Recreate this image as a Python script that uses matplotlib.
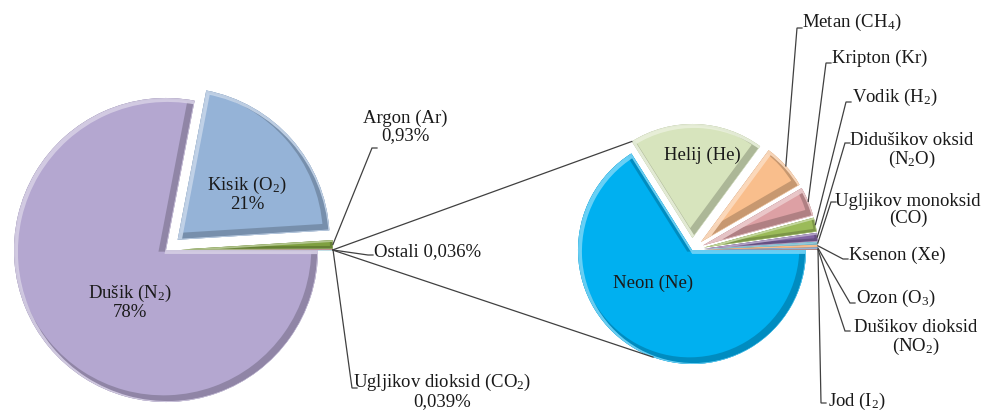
import numpy as np
import matplotlib
matplotlib.use('Agg')
import matplotlib.pyplot as plt
from matplotlib.patches import Wedge
import matplotlib.colors as mcolors

plt.rcParams['font.family'] = ['Liberation Serif', 'DejaVu Serif']
plt.rcParams['mathtext.fontset'] = 'custom'
plt.rcParams['mathtext.rm'] = 'Liberation Serif'
plt.rcParams['mathtext.it'] = 'Liberation Serif:italic'
plt.rcParams['mathtext.bf'] = 'Liberation Serif:bold'

# ---------------- data ----------------
main_names = ['Ostali', 'Ugljikov dioksid (CO$_2$)', 'Argon (Ar)', 'Kisik (O$_2$)', 'Dušik (N$_2$)']
main_values = [0.036, 0.039, 0.93, 21, 78]
main_pct = ['0,036%', '0,039%', '0,93%', '21%', '78%']
main_colors = ['#4BACC6', '#C0504D', '#7FA040', '#95B3D7', '#B4A7D0']

other_names = ['Jod (I$_2$)', 'Dušikov dioksid\n(NO$_2$)', 'Ozon (O$_3$)', 'Ksenon (Xe)',
               'Ugljikov monoksid\n(CO)', 'Didušikov oksid\n(N$_2$O)', 'Vodik (H$_2$)',
               'Kripton (Kr)', 'Metan (CH$_4$)', 'Helij (He)', 'Neon (Ne)']
other_values = [0.01, 0.02, 0.07, 0.09, 0.1, 0.325, 0.55, 1.14, 1.79, 5.24, 18.18]
other_colors = ['#9BBB59', '#C0504D', '#4F81BD', '#F79646', '#4BACC6', '#8064A2',
                '#9BBB59', '#DDA0A4', '#F9BE8C', '#D7E4BD', '#00B0F0']

# ---------------- layout ----------------
W, H = 986, 412
fig = plt.figure(figsize=(W / 100, H / 100), dpi=100)
ax = fig.add_axes([0, 0, 1, 1])

def Y(y):  # screen y -> data y
    return H - y

TXT = '#1a1a1a'
LINE = '#404040'
FS = 13.5

c1, r1 = (166, Y(250)), 152
c2, r2 = (692, Y(250)), 114

start1 = -main_values[0] / sum(main_values) * 180.0
w1, _ = ax.pie(main_values, colors=main_colors, startangle=start1, counterclock=True,
               radius=r1, center=c1, explode=[15, 15, 15, 15.5, 0],
               wedgeprops=dict(linewidth=0))
w2, _ = ax.pie(other_values, colors=other_colors, startangle=0, counterclock=True,
               radius=r2, center=c2, explode=[12] * 10 + [0],
               wedgeprops=dict(linewidth=0))

# bevel-like shading: dark rim at lower-right, light rim at upper-left
for w, col in list(zip(w1, main_colors)) + list(zip(w2, other_colors)):
    base = np.array(mcolors.to_rgb(col))
    dark = base * 0.78
    light = base + (1 - base) * 0.45
    cx, cy = w.center
    span = w.theta2 - w.theta1
    k = 1.0 if span > 10 else 0.45
    rd = Wedge((cx - 2.5 * k, cy + 2.5 * k), w.r, w.theta1, w.theta2, fill=False,
               edgecolor=dark, linewidth=6 * k, alpha=0.9)
    ax.add_patch(rd)
    rd.set_clip_path(w)
    rl = Wedge((cx + 1.5 * k, cy - 1.5 * k), w.r, w.theta1, w.theta2, fill=False,
               edgecolor=light, linewidth=3.5 * k, alpha=0.9)
    ax.add_patch(rl)
    rl.set_clip_path(w)

def pt(w, ang, frac=1.0):
    a = np.deg2rad(ang)
    return (w.center[0] + w.r * frac * np.cos(a), w.center[1] + w.r * frac * np.sin(a))

def mid(w):
    return 0.5 * (w.theta1 + w.theta2)

# inside labels
ax.text(247, Y(194), f'{main_names[3]}\n{main_pct[3]}', ha='center', va='center',
        fontsize=FS, color=TXT, linespacing=1.05)
ax.text(130, Y(302), f'{main_names[4]}\n{main_pct[4]}', ha='center', va='center',
        fontsize=FS, color=TXT, linespacing=1.05)
ax.text(702, Y(155), other_names[9], ha='center', va='center', fontsize=FS, color=TXT)
ax.text(653, Y(283), other_names[10], ha='center', va='center', fontsize=FS, color=TXT)

def leader(w, hook, text, tx, ty, ha='left'):
    p0 = pt(w, mid(w))
    hx, hy = hook
    ax.plot([p0[0], hx, hx + 5], [p0[1], Y(hy), Y(hy)], color=LINE, lw=0.9,
            solid_joinstyle='miter')
    ax.text(tx, Y(ty), text, ha=ha, va='center', fontsize=FS, color=TXT,
            multialignment='center', linespacing=1.05)

# left pie outside labels
leader(w1[2], (372, 148), f'{main_names[2]}\n{main_pct[2]}', 405, 127, ha='center')
leader(w1[0], (368, 255), f'{main_names[0]} {main_pct[0]}', 374, 252)
leader(w1[1], (352, 388), f'{main_names[1]}\n{main_pct[1]}', 442, 391, ha='center')

# right pie outside labels
leader(w2[8], (797, 28), other_names[8], 802, 22)
leader(w2[7], (826, 63), other_names[7], 832, 58)
leader(w2[6], (846, 102), other_names[6], 852, 97)
leader(w2[5], (845, 143), other_names[5], 912, 151, ha='center')
leader(w2[4], (831, 202), other_names[4], 908, 210, ha='center')
leader(w2[3], (843, 259), other_names[3], 849, 255)
leader(w2[2], (850, 303), other_names[2], 856, 298)
leader(w2[1], (845, 331), other_names[1], 916, 338, ha='center')
leader(w2[0], (821, 403), other_names[0], 828, 401)

# series lines between the two pies
wo = w1[0]
a_top = pt(wo, wo.theta2)
a_bot = pt(wo, wo.theta1)
he = w2[9]
b_top = pt(he, he.theta2)
ne = w2[10]
b_bot = pt(ne, 250)
ax.plot([a_top[0], b_top[0]], [a_top[1], b_top[1]], color=LINE, lw=0.9)
ax.plot([a_bot[0], b_bot[0]], [a_bot[1], b_bot[1]], color=LINE, lw=0.9)

ax.set_xlim(0, W)
ax.set_ylim(0, H)
ax.set_aspect('equal')
ax.axis('off')
fig.savefig('out.png', dpi=100)
